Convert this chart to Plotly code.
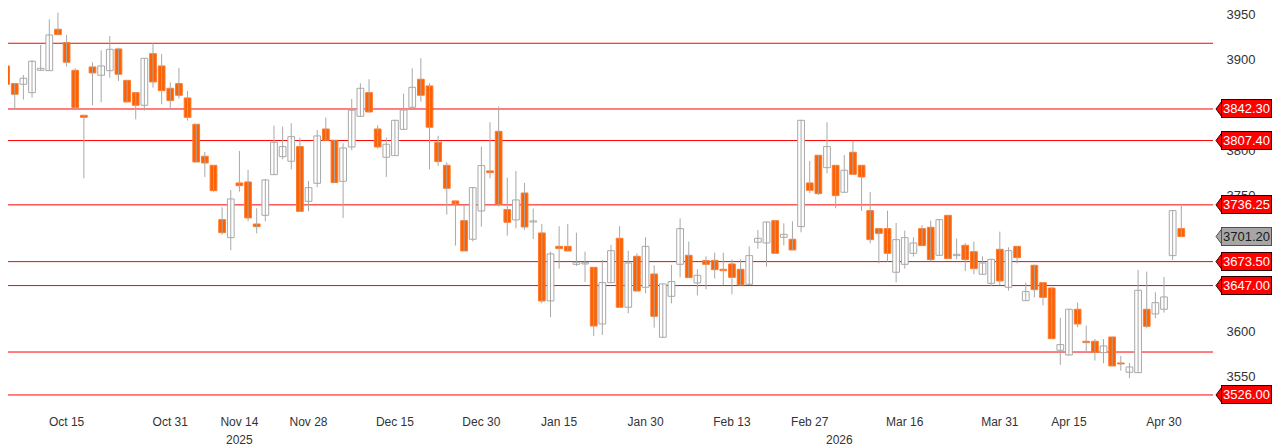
import plotly.graph_objects as go

# ---------------- data ----------------
open_ = [3889.9, 3870.4, 3869.6, 3860.4, 3885.1, 3884.7, 3930.5, 3915.7, 3885.1, 3835.3,
         3888.8, 3879.6, 3884.7, 3908.7, 3874.0, 3860.4, 3846.4, 3903.5, 3889.9, 3865.2,
         3870.4, 3854.5, 3825.4, 3790.0, 3780.0, 3719.9, 3700.0, 3760.5, 3761.6, 3715.1,
         3724.7, 3769.7, 3789.6, 3784.5, 3800.7, 3740.2, 3760.1, 3820.2, 3807.7, 3762.3,
         3800.3, 3834.2, 3860.4, 3820.2, 3788.9, 3790.7, 3819.8, 3844.2, 3875.2, 3867.8,
         3805.5, 3780.0, 3740.6, 3718.8, 3698.2, 3729.5, 3773.8, 3817.6, 3731.0, 3719.6,
         3749.4, 3717.3, 3705.2, 3630.0, 3690.4, 3690.4, 3670.5, 3670.9, 3667.2, 3604.5,
         3650.2, 3699.3, 3623.0, 3679.4, 3645.1, 3659.8, 3589.8, 3635.1, 3670.5, 3680.5,
         3649.9, 3674.6, 3674.9, 3665.0, 3670.9, 3665.0, 3648.4, 3694.9, 3694.1, 3718.8,
         3700.4, 3698.2, 3712.2, 3760.5, 3791.1, 3777.4, 3780.0, 3750.2, 3794.4, 3780.0,
         3729.9, 3710.0, 3710.0, 3661.7, 3670.5, 3682.7, 3710.0, 3711.5, 3680.5, 3724.7,
         3680.1, 3691.5, 3684.5, 3659.5, 3649.5, 3687.1, 3645.1, 3690.4, 3630.3, 3669.4,
         3650.2, 3644.3, 3575.4, 3570.2, 3620.8, 3585.4, 3585.4, 3572.8, 3590.1, 3561.4,
         3551.1, 3550.7, 3620.8, 3615.6, 3620.8, 3680.1, 3710.0]
high = [3892.8, 3871.1, 3879.9, 3896.5, 3913.1, 3941.5, 3948.9, 3924.2, 3887.3, 3836.0,
        3894.0, 3907.2, 3923.1, 3910.2, 3874.5, 3860.8, 3898.4, 3915.0, 3903.2, 3871.8,
        3887.7, 3862.2, 3825.8, 3794.8, 3780.3, 3733.6, 3752.7, 3795.9, 3774.9, 3732.5,
        3764.9, 3823.9, 3822.8, 3826.5, 3810.6, 3762.7, 3819.1, 3832.8, 3808.0, 3804.4,
        3853.4, 3870.7, 3875.2, 3824.3, 3810.6, 3830.2, 3859.3, 3887.3, 3898.4, 3870.7,
        3812.8, 3783.3, 3741.0, 3736.5, 3755.7, 3800.7, 3827.6, 3844.9, 3766.4, 3773.8,
        3760.5, 3732.1, 3715.1, 3684.5, 3712.6, 3715.1, 3705.5, 3684.5, 3667.6, 3675.3,
        3691.9, 3712.9, 3685.6, 3682.7, 3700.4, 3669.4, 3649.2, 3669.8, 3721.4, 3695.6,
        3665.0, 3679.4, 3683.4, 3683.4, 3676.0, 3676.0, 3690.4, 3708.5, 3717.7, 3719.2,
        3715.9, 3718.1, 3830.2, 3784.8, 3791.5, 3827.6, 3780.4, 3791.4, 3807.3, 3780.4,
        3750.5, 3710.4, 3729.9, 3716.2, 3707.8, 3700.4, 3713.7, 3718.8, 3720.3, 3725.1,
        3698.9, 3694.1, 3695.6, 3679.4, 3676.4, 3706.7, 3689.3, 3690.8, 3650.2, 3670.1,
        3650.6, 3645.1, 3611.2, 3621.2, 3628.1, 3602.7, 3587.9, 3587.9, 3590.5, 3569.1,
        3561.4, 3664.3, 3662.4, 3639.6, 3656.5, 3730.3, 3737.0]
low = [3866.3, 3842.3, 3852.7, 3854.9, 3884.4, 3884.7, 3923.8, 3889.2, 3840.9, 3765.7,
       3846.4, 3849.7, 3877.0, 3873.3, 3849.5, 3830.9, 3840.5, 3865.9, 3847.5, 3842.3,
       3853.8, 3829.4, 3783.0, 3767.1, 3750.9, 3703.3, 3686.0, 3750.9, 3718.1, 3704.8,
       3718.1, 3769.3, 3786.7, 3775.6, 3728.4, 3729.1, 3755.7, 3807.3, 3760.5, 3721.8,
       3796.6, 3833.8, 3838.6, 3798.5, 3767.1, 3790.3, 3819.4, 3841.2, 3850.4, 3775.6,
       3779.3, 3725.5, 3691.2, 3685.0, 3696.0, 3712.2, 3765.7, 3734.3, 3702.2, 3710.3,
       3708.5, 3698.5, 3627.4, 3611.9, 3665.7, 3685.0, 3668.7, 3651.0, 3591.3, 3592.4,
       3649.8, 3622.6, 3616.3, 3640.6, 3638.4, 3600.5, 3589.4, 3627.4, 3656.1, 3655.4,
       3636.2, 3642.9, 3654.7, 3647.3, 3637.3, 3647.3, 3648.0, 3687.9, 3667.9, 3682.3,
       3691.5, 3686.0, 3705.9, 3749.1, 3747.2, 3771.2, 3732.5, 3749.8, 3769.7, 3729.5,
       3693.8, 3671.6, 3673.5, 3650.6, 3665.7, 3679.0, 3690.8, 3673.5, 3680.1, 3676.4,
       3676.0, 3663.1, 3659.5, 3659.1, 3646.6, 3647.3, 3641.4, 3671.6, 3629.9, 3634.0,
       3625.2, 3587.9, 3559.2, 3569.8, 3600.8, 3573.2, 3564.0, 3561.0, 3557.7, 3552.9,
       3544.4, 3550.3, 3599.7, 3610.8, 3617.1, 3675.3, 3701.2]
close = [3869.6, 3858.6, 3876.3, 3895.1, 3887.3, 3924.2, 3924.6, 3894.0, 3843.8, 3833.1,
         3882.2, 3889.9, 3908.3, 3880.7, 3850.1, 3846.4, 3898.4, 3872.2, 3862.6, 3851.6,
         3857.5, 3833.1, 3783.7, 3782.6, 3752.0, 3705.5, 3742.8, 3757.5, 3721.8, 3712.2,
         3763.8, 3805.5, 3800.7, 3811.7, 3729.1, 3755.3, 3812.5, 3807.7, 3760.9, 3799.2,
         3840.9, 3865.2, 3839.0, 3800.3, 3803.3, 3829.8, 3841.2, 3866.3, 3857.5, 3822.1,
         3784.1, 3754.6, 3737.3, 3685.3, 3755.3, 3779.7, 3771.9, 3736.9, 3717.0, 3741.7,
         3711.8, 3718.5, 3630.0, 3682.0, 3687.9, 3685.3, 3672.7, 3672.4, 3602.3, 3650.2,
         3685.6, 3623.0, 3672.0, 3641.0, 3690.4, 3613.0, 3648.8, 3651.4, 3710.0, 3655.8,
         3658.3, 3670.5, 3664.6, 3663.5, 3656.1, 3647.7, 3680.1, 3699.3, 3717.3, 3682.7,
         3703.7, 3686.4, 3829.8, 3752.4, 3748.7, 3800.7, 3746.5, 3774.5, 3770.1, 3767.1,
         3697.8, 3704.8, 3682.7, 3697.8, 3700.0, 3694.1, 3691.2, 3675.7, 3719.9, 3676.8,
         3681.6, 3675.7, 3665.7, 3672.0, 3676.0, 3652.1, 3685.6, 3677.9, 3640.3, 3642.5,
         3634.0, 3588.3, 3581.7, 3620.8, 3604.5, 3583.9, 3573.2, 3580.2, 3558.1, 3560.3,
         3557.0, 3641.8, 3601.9, 3628.1, 3634.4, 3729.9, 3701.2]

tick_labels = ["Oct 15", "Oct 31", "Nov 14", "Nov 28", "Dec 15", "Dec 30", "Jan 15",
               "Jan 30", "Feb 13", "Feb 27", "Mar 16", "Mar 31", "Apr 15", "Apr 30"]
tick_index = [7, 19, 27, 35, 45, 55, 64, 74, 84, 93, 104, 115, 123, 134]
year_labels = ["2025", "2026"]
year_index = [27, 96.5]

level_lines = [3915.0, 3842.30, 3807.40, 3736.25, 3673.50, 3647.00, 3573.5, 3526.00]
level_labels = [3842.30, 3807.40, 3736.25, 3673.50, 3647.00, 3526.00]
last_price = 3701.20
y_ticks = [3550, 3600, 3650, 3700, 3750, 3800, 3850, 3900, 3950]

# ---------------- styling ----------------
ORANGE = "#ff6000"
ORANGE_EDGE = "#ff7b2e"
GREY = "#a8a8a8"
RED = "#ff0000"
FONT = "Liberation Sans"

n = len(close)
xs = list(range(n))

# the page body adds an 8px offset; margins are chosen to compensate
W, H = 1283, 448
ML, MR, MT, MB = 0, 78, 0, 51
plot_w = W - ML - MR
plot_h = H - MT - MB
y_range = [3514.9, 3954.0]
x_range = [0.22, 139.67]

fig = go.Figure()

# wicks
wx, wy = [], []
for i in xs:
    wx += [i, i, None]
    wy += [low[i], high[i], None]
fig.add_trace(go.Scatter(x=wx, y=wy, mode="lines",
                         line=dict(color=GREY, width=1),
                         hoverinfo="skip", showlegend=False))

# bodies
base = [min(o, c) for o, c in zip(open_, close)]
height = [max(abs(c - o), 0.9) for o, c in zip(open_, close)]
fill = [ORANGE if c < o else "white" for o, c in zip(open_, close)]
edge = [ORANGE_EDGE if c < o else GREY for o, c in zip(open_, close)]
fig.add_trace(go.Bar(x=xs, y=height, base=base, width=0.78,
                     marker=dict(color=fill, line=dict(color=edge, width=1)),
                     hoverinfo="skip", showlegend=False))

shapes = []
for lv in level_lines:
    shapes.append(dict(type="line", xref="paper", yref="y", x0=0, x1=1, y0=lv, y1=lv,
                       line=dict(color=RED, width=1), layer="below"))

units_per_px = (y_range[1] - y_range[0]) / plot_h
tip = 1 + 3 / plot_w
bas = 1 + 9 / plot_w
half = 8 * units_per_px


def arrow(y, fillc, linec):
    return dict(type="path", xref="paper", yref="y",
                path=f"M {tip} {y} L {bas} {y + half} L {bas} {y - half} Z",
                fillcolor=fillc, line=dict(color=linec, width=1), layer="above")


annotations = []
for lv in level_labels:
    shapes.append(arrow(lv, RED, "#300000"))
    annotations.append(dict(xref="paper", yref="y", x=1, y=lv, xshift=8,
                            xanchor="left", yanchor="middle",
                            text=f"{lv:.2f}", showarrow=False,
                            font=dict(family=FONT, size=13, color="white"),
                            bgcolor=RED, bordercolor="#300000", borderwidth=1,
                            borderpad=1))
shapes.append(arrow(last_price, "#a6a6a6", "#505050"))
annotations.append(dict(xref="paper", yref="y", x=1, y=last_price, xshift=8,
                        xanchor="left", yanchor="middle",
                        text=f"{last_price:.2f}", showarrow=False,
                        font=dict(family=FONT, size=13, color="#1a1a1a"),
                        bgcolor="#a6a6a6", bordercolor="#505050", borderwidth=1,
                        borderpad=1))

for lab, xi in zip(year_labels, year_index):
    annotations.append(dict(xref="x", yref="paper", x=xi, y=0, yshift=-35,
                            xanchor="center", yanchor="middle", text=lab,
                            showarrow=False,
                            font=dict(family=FONT, size=12, color="#333333")))

fig.update_layout(
    width=W, height=H,
    margin=dict(l=ML, r=MR, t=MT, b=MB, autoexpand=False),
    paper_bgcolor="white", plot_bgcolor="white",
    barmode="overlay",
    showlegend=False,
    shapes=shapes,
    annotations=annotations,
    xaxis=dict(range=x_range, tickmode="array", tickvals=tick_index, ticktext=tick_labels,
               showgrid=False, zeroline=False, showline=False, automargin=False,
               ticks="outside", ticklen=6, tickcolor="rgba(0,0,0,0)",
               ticklabeloverflow="allow",
               tickfont=dict(family=FONT, size=12, color="#333333")),
    yaxis=dict(range=y_range, side="right", tickmode="array", tickvals=y_ticks,
               showgrid=False, zeroline=False, showline=False, automargin=False,
               ticks="outside", ticklen=10, tickcolor="rgba(0,0,0,0)",
               ticklabeloverflow="allow", ticklabelshift=3,
               tickfont=dict(family=FONT, size=13, color="#333333")),
)

fig.write_html("out.html")
